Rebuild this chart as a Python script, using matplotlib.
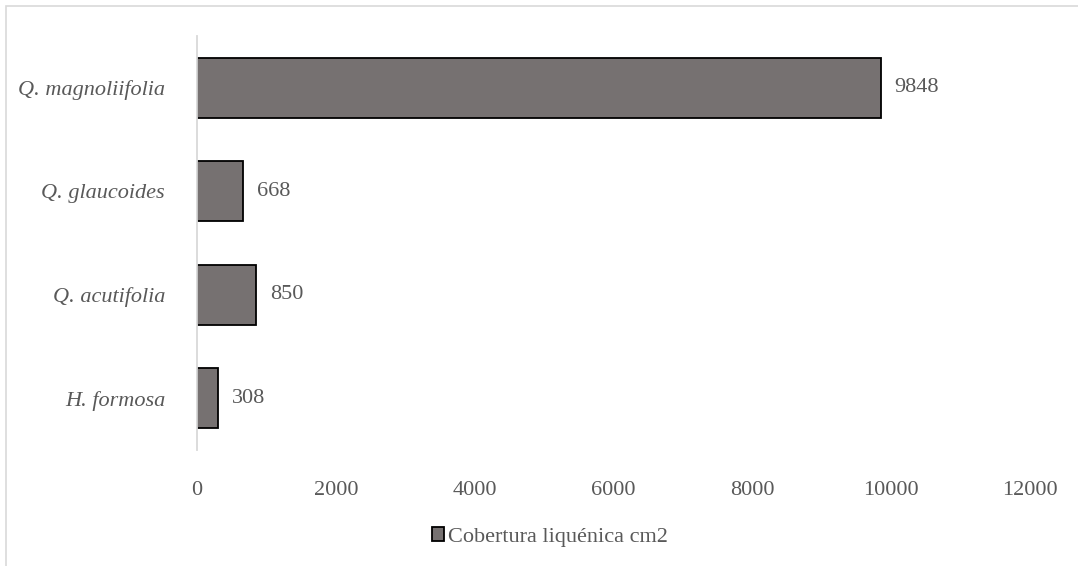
import matplotlib.pyplot as plt
from matplotlib.patches import Rectangle, Patch

# Lichen cover per host tree species
species = ["H. formosa", "Q. acutifolia", "Q. glaucoides", "Q. magnoliifolia"]
cover = [308, 850, 668, 9848]
series_name = "Cobertura liquénica cm2"
xticks = [0, 2000, 4000, 6000, 8000, 10000, 12000]

plt.rcParams['font.family'] = ['Liberation Serif', 'DejaVu Serif']
text_col = "#595959"
bar_col = "#767171"

fig = plt.figure(figsize=(10.78, 5.66), dpi=100)
ax = fig.add_axes([0.1827, 0.205, 0.7728, 0.7314])

# light frame around the chart area
fig.patches.append(Rectangle((6 / 1078, -0.05), 1.1, 1 - 6 / 566 + 0.05,
                             transform=fig.transFigure, fill=False,
                             edgecolor="#d9d9d9", linewidth=1.2))

ypos = range(len(species))
bars = ax.barh(ypos, cover, height=0.58, color=bar_col,
               edgecolor="black", linewidth=1.3)

for y, v in zip(ypos, cover):
    ax.text(v + 200, y, str(v), va="center", ha="left",
            fontsize=16, color=text_col)

ax.set_xlim(0, 12000)
ax.set_ylim(-0.5, len(species) - 0.5)
ax.set_xticks(xticks)
ax.set_xticklabels([str(t) for t in xticks], fontsize=16, color=text_col)
ax.set_yticks(list(ypos))
ax.set_yticklabels(species, fontsize=16, style="italic", color=text_col)
ax.tick_params(axis="both", length=0)
ax.tick_params(axis="x", pad=22)
ax.tick_params(axis="y", pad=23)

for side in ["top", "right", "bottom"]:
    ax.spines[side].set_visible(False)
ax.spines["left"].set_color("#d9d9d9")
ax.spines["left"].set_linewidth(1.3)

handle = Patch(facecolor=bar_col, edgecolor="black", linewidth=1.3)
fig.legend([handle], [series_name], loc="center", bbox_to_anchor=(0.51, 0.051),
           frameon=False, fontsize=16, handlelength=0.55, handleheight=0.55,
           handletextpad=0.2, labelcolor=text_col)

fig.savefig("out.png", dpi=100)
